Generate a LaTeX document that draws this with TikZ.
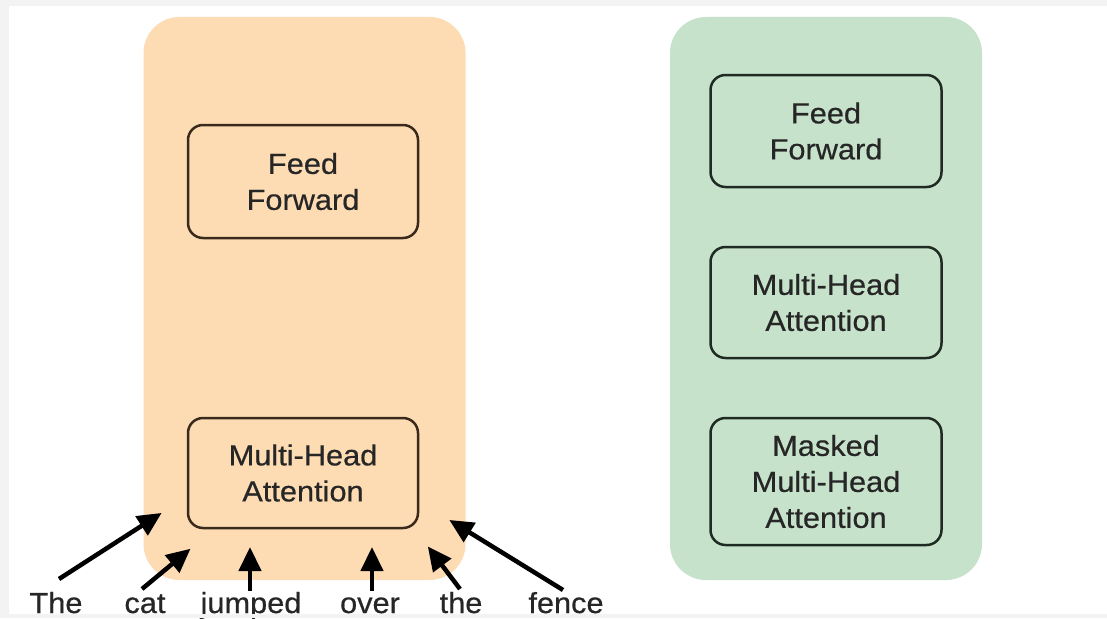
\documentclass[tikz,border=0pt]{standalone}
\usepackage{fontspec}
\setmainfont{Liberation Sans}[FakeStretch=1.06,FakeBold=0.5]
\usetikzlibrary{arrows.meta}
\definecolor{framegray}{HTML}{F3F3F3}
\definecolor{peach}{HTML}{FDDCB4}
\definecolor{mint}{HTML}{C6E2CB}
\definecolor{brownline}{HTML}{3A2A1C}
\definecolor{greenline}{HTML}{1F2A22}
\definecolor{textdark}{HTML}{262626}
\tikzset{
  panel/.style={rounded corners=36pt, inner sep=0pt},
  blockbox/.style={draw, rounded corners=15pt, line width=2.5pt, align=center,
    inner sep=0pt, text=textdark, font=\fontsize{29}{36}\selectfont},
  word/.style={anchor=base, inner sep=0pt, text=textdark, font=\fontsize{29}{35}\selectfont},
  inarrow/.style={line width=4.5pt, draw=black, -{Triangle[length=24pt,width=22pt]}, shorten >=-2pt}
}
\begin{document}
\begin{tikzpicture}[x=1pt,y=-1pt]
\useasboundingbox (0,0) rectangle (1107,618);
\fill[framegray] (0,0) rectangle (1107,618);
\fill[white] (9,6) rectangle (1107,614);
% panels
\node[panel, fill=peach, minimum width=322pt, minimum height=563pt] (enc) at (304.5,298.5) {};
\node[panel, fill=mint, minimum width=312pt, minimum height=563pt] (dec) at (826,298.5) {};
% encoder blocks
\node[blockbox, draw=brownline, minimum width=230pt, minimum height=113pt] (eff) at (303,181.5) {Feed\\Forward};
\node[blockbox, draw=brownline, minimum width=230pt, minimum height=110pt] (emha) at (303,473) {Multi-Head\\Attention};
% decoder blocks
\node[blockbox, draw=greenline, minimum width=231pt, minimum height=112pt] (dff) at (826,131) {Feed\\Forward};
\node[blockbox, draw=greenline, minimum width=231pt, minimum height=111pt] (dmha) at (826,302.5) {Multi-Head\\Attention};
\node[blockbox, draw=greenline, minimum width=231pt, minimum height=127pt] (dmask) at (826,481.5) {Masked\\Multi-Head\\Attention};
% words
\node[word] (w1) at (56,613) {The};
\node[word] (w2) at (145,613) {cat};
\node[word] (w3) at (251,613) {jumped};
\node[word] (w4) at (370,613) {over};
\node[word] (w5) at (461,613) {the};
\node[word] (w6) at (566,613) {fence};
% arrow ends
\coordinate (t1) at (59,579); \coordinate (h1) at (160,514);
\coordinate (t2) at (142,589); \coordinate (h2) at (189,550);
\coordinate (t3) at (250,591); \coordinate (h3) at (250,549);
\coordinate (t4) at (372,591); \coordinate (h4) at (372,549);
\coordinate (t5) at (460,589); \coordinate (h5) at (429,548);
\coordinate (t6) at (563,590); \coordinate (h6) at (451,521);
\foreach \i in {1,...,6} { \draw[inarrow] (t\i) -- (h\i); }
% bottom frame strip over descenders
\fill[framegray] (0,613.6) rectangle (1107,618);
\end{tikzpicture}
\end{document}
